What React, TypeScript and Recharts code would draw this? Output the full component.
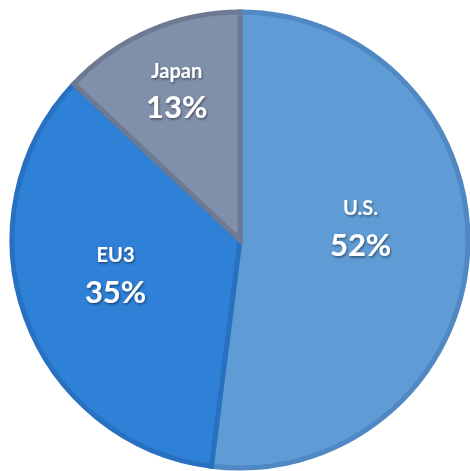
import React from "react";
import { Cell, Pie, PieChart } from "recharts";

const regions = ["U.S.", "EU3", "Japan"];
const shares = [52, 35, 13];

const fills = ["#5f9bd4", "#2f80d7", "#8190aa"];
const strokes = ["#4f88c2", "#2870c0", "#6d7a92"];
// label placement: share of the radius, and a lift upwards in px
const labelRadius = [0.53, 0.58, 0.7];
const labelLift = [19, 9, 2];

const chartData = regions.map((name, i) => ({ name, value: shares[i] }));

const RADIAN = Math.PI / 180;

const SliceLabel = (props: any) => {
  const { cx, cy, midAngle, outerRadius, index } = props;
  const r = outerRadius * labelRadius[index];
  const x = cx + r * Math.cos(-midAngle * RADIAN);
  const y = cy + r * Math.sin(-midAngle * RADIAN) - labelLift[index];
  const item = chartData[index];
  return (
    <g filter="url(#labelShadow)" fontFamily="Lato, 'Open Sans', sans-serif" fontWeight="bold" fill="#fff">
      <text x={x} y={y - 19} textAnchor="middle" dominantBaseline="middle" fontSize={20}>
        {item.name}
      </text>
      <text x={x} y={y + 19} textAnchor="middle" dominantBaseline="middle" fontSize={31}>
        {`${item.value}%`}
      </text>
    </g>
  );
};

const App = () => {
  return (
    <div style={{ position: "absolute", left: 0, top: 0, width: 470, height: 471, background: "#fff" }}>
      <PieChart width={470} height={471} margin={{ top: 0, right: 0, bottom: 0, left: 0 }}>
        <defs>
          <filter id="labelShadow" x="-20%" y="-20%" width="140%" height="140%">
            <feDropShadow dx="1" dy="1.5" stdDeviation="1" floodColor="#000" floodOpacity="0.45" />
          </filter>
        </defs>
        <Pie
          data={chartData}
          dataKey="value"
          nameKey="name"
          cx={240}
          cy={240}
          outerRadius={228}
          startAngle={90}
          endAngle={-270}
          strokeWidth={5}
          labelLine={false}
          label={SliceLabel}
          isAnimationActive={false}
        >
          {chartData.map((entry, i) => (
            <Cell key={entry.name} fill={fills[i]} stroke={strokes[i]} />
          ))}
        </Pie>
      </PieChart>
    </div>
  );
};

export default App;
